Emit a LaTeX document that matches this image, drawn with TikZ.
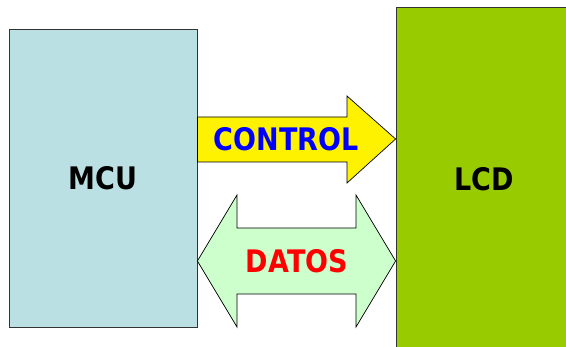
\documentclass[tikz,border=0pt]{standalone}
\usepackage{fontspec}
\setmainfont{DejaVu Sans}
\usetikzlibrary{positioning}

\definecolor{mcublue}{HTML}{BBE0E3}
\definecolor{lcdgreen}{HTML}{99CC00}
\definecolor{datosgreen}{HTML}{CCFFCC}
\newcommand{\tall}[1]{\scalebox{1}[1.15]{#1}}

\begin{document}
\begin{tikzpicture}[x=1pt,y=-1pt,
    block/.style={draw=black!80,line width=0.8pt},
    busline/.style={draw=black,line width=0.7pt,line join=miter},
    tag/.style={font=\fontsize{27}{30}\selectfont\bfseries,inner sep=0pt}]
\useasboundingbox (0,0) rectangle (566,347);
\clip (0,0) rectangle (566,347);
% the two blocks
\node[block,fill=mcublue,minimum width=188,minimum height=298] (mcu) at (103,178) {};
\node[block,fill=lcdgreen,minimum width=200,minimum height=344] (lcd) at (496,179) {};
\node[tag] (mcutext) at (mcu.center) {\tall{MCU}};
\node[tag] (lcdtext) at (484,179) {\tall{LCD}};
% control: one way
\draw[busline,fill=yellow]
    (mcu.east |- 0,117) -- (347,117) -- (347,96) -- (lcd.west |- 0,139)
    -- (347,183) -- (347,162) -- (mcu.east |- 0,162) -- cycle;
\node[tag,text=blue] (control) at (286,139.5) {\tall{CONTROL}};
% datos: both ways
\draw[busline,fill=datosgreen]
    (mcu.east |- 0,261) -- (237,195) -- (237,228) -- (356,228) -- (356,195)
    -- (lcd.west |- 0,261) -- (356,327) -- (356,294) -- (237,294) -- (237,327) -- cycle;
\node[tag,text=red] (datos) at (297,261) {\tall{DATOS}};
\end{tikzpicture}
\end{document}
